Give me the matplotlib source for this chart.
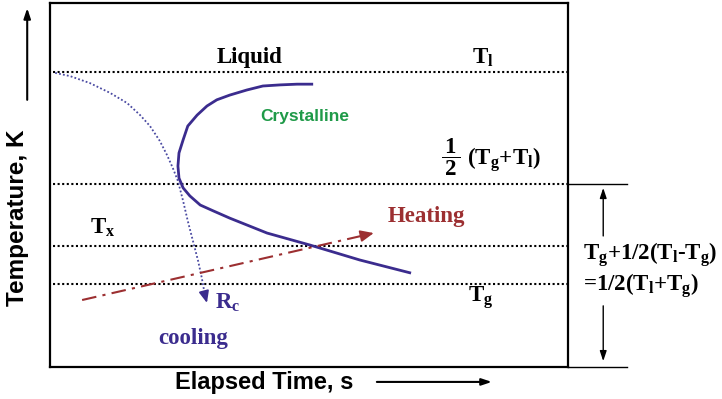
import matplotlib
matplotlib.use("Agg")
import matplotlib.pyplot as plt
import numpy as np

# schematic TTT-style diagram, arbitrary units (time 0-100, temperature 0-100)

plt.rcParams["mathtext.fontset"] = "custom"
plt.rcParams["mathtext.rm"] = "Liberation Serif:bold"
plt.rcParams["mathtext.it"] = "Liberation Serif:bold"
plt.rcParams["mathtext.bf"] = "Liberation Serif:bold"

# characteristic temperature levels

T_LIQUID = 81.0
T_HALF = 50.3
T_X = 33.2
T_GLASS = 22.8
level_values = [T_LIQUID, T_HALF, T_X, T_GLASS]

# crystallisation nose (C-curve)

crystal_time = [50.8, 47.7, 44.4, 41.1, 38.0, 34.7, 32.2, 30.3, 28.4, 26.6,
                25.7, 24.9, 24.7, 24.9, 25.7, 27.0, 29.0, 31.5, 34.7, 41.9,
                50.2, 59.8, 69.7]
crystal_temp = [77.7, 77.7, 77.5, 77.2, 76.1, 74.7, 73.4, 71.7, 69.2, 66.2,
                62.4, 58.8, 55.2, 51.9, 49.2, 47.0, 44.5, 42.9, 40.9, 36.8,
                33.5, 29.4, 25.8]

# critical cooling path

cooling_time = [1.0, 3.9, 7.7, 11.6, 14.9, 17.4, 19.3, 21.2, 22.6, 23.7, 24.7,
                25.7, 26.6, 27.6, 28.6, 29.3, 29.9]
cooling_temp = [80.8, 79.9, 78.0, 75.3, 72.5, 69.2, 66.2, 62.1, 58.2, 54.7, 51.1,
                45.6, 40.1, 34.6, 29.1, 24.5, 19.8]
cooling_tip = (30.3, 17.6)

# heating path

heating_start = (6.2, 18.4)
heating_end = (62.5, 36.8)

PURPLE = "#3b2c8e"
DOT_PURPLE = "#4a4aa2"
BROWN = "#9c2f31"
GREEN = "#1f9a48"
SERIF = "Liberation Serif"
SANS = "Liberation Sans"

fig = plt.figure(figsize=(7.22, 3.99), dpi=100)
ax = fig.add_axes([50 / 722, 32 / 399, 518 / 722, 364 / 399])
ax.set_xlim(0, 100)
ax.set_ylim(0, 100)
ax.set_xticks([])
ax.set_yticks([])
for sp in ax.spines.values():
    sp.set_linewidth(1.6)

for lv in level_values:
    ax.plot([0.6, 100], [lv, lv], color="black", lw=1.5, ls=(0, (1, 1.2)))

ax.plot(crystal_time, crystal_temp, color=PURPLE, lw=2.0, solid_capstyle="butt",
        solid_joinstyle="round")

ax.plot(cooling_time, cooling_temp, color=DOT_PURPLE, lw=1.3, ls=(0, (1, 1.2)))
ax.annotate("", xy=cooling_tip, xytext=(cooling_time[-1], cooling_temp[-1]),
            arrowprops=dict(arrowstyle="-|>,head_length=0.7,head_width=0.3",
                            color=PURPLE, lw=1.3, shrinkA=0, shrinkB=0))

ax.plot([heating_start[0], heating_end[0] - 1.5],
        [heating_start[1], heating_end[1] - 0.5],
        color=BROWN, lw=1.5, ls=(0, (7, 3, 1.5, 3)))
ax.annotate("", xy=heating_end, xytext=(heating_end[0] - 2.0, heating_end[1] - 0.65),
            arrowprops=dict(arrowstyle="-|>,head_length=0.8,head_width=0.35",
                            color=BROWN, lw=1.3, shrinkA=0, shrinkB=0))

# labels inside the box

ax.text(38.6, 85.0, "Liquid", family=SERIF, weight="bold", fontsize=16.5,
        ha="center", va="center")
ax.text(83.6, 85.0, r"$T_l$", fontsize=16.5, ha="center", va="center")
ax.text(49.2, 68.7, "Crystalline", family=SANS, weight="bold", fontsize=12.5,
        color=GREEN, ha="center", va="center")
ax.text(75.5, 57.5, r"$\dfrac{\,1\,}{\,2\,}$ (T$_g$+T$_l$)", family=SERIF,
        weight="bold", fontsize=16.5, ha="left", va="center")
ax.text(10.2, 38.2, r"$T_x$", fontsize=16.5, ha="center", va="center")
ax.text(83.2, 19.0, r"$T_g$", fontsize=16.5, ha="center", va="center")
ax.text(34.2, 17.8, r"$R_c$", fontsize=16.5, color=PURPLE, ha="center", va="center")
ax.text(27.6, 7.8, "cooling", family=SERIF, weight="bold", fontsize=16.5,
        color=PURPLE, ha="center", va="center")
ax.text(72.6, 41.3, "Heating", family=SERIF, weight="bold", fontsize=16.5,
        color=BROWN, ha="center", va="center")

# bracket on the right

for lv in [T_HALF, 0]:
    ax.plot([100, 111.4], [lv, lv], color="black", lw=1.0, clip_on=False)
ax.annotate("", xy=(106.8, 49.2), xytext=(106.8, 36.0), annotation_clip=False,
            arrowprops=dict(arrowstyle="-|>,head_length=0.6,head_width=0.2",
                            color="black", lw=1.0, shrinkA=0, shrinkB=0))
ax.annotate("", xy=(106.8, 1.6), xytext=(106.8, 16.8), annotation_clip=False,
            arrowprops=dict(arrowstyle="-|>,head_length=0.6,head_width=0.2",
                            color="black", lw=1.0, shrinkA=0, shrinkB=0))
ax.text(102.9, 30.8, r"T$_g$+1/2(T$_l$-T$_g$)", family=SERIF, weight="bold",
        fontsize=16.5, ha="left", va="center", clip_on=False)
ax.text(102.9, 22.5, r"=1/2(T$_l$+T$_g$)", family=SERIF, weight="bold",
        fontsize=16.5, ha="left", va="center", clip_on=False)

# axis titles with arrows

ax.text(-6.2, 40.9, "Temperature, K", family=SANS, weight="bold", fontsize=17.5,
        rotation=90, ha="center", va="center", clip_on=False)
ax.annotate("", xy=(-4.4, 98.6), xytext=(-4.4, 73.4), annotation_clip=False,
            arrowprops=dict(arrowstyle="-|>,head_length=0.6,head_width=0.2",
                            color="black", lw=1.5, shrinkA=0, shrinkB=0))
ax.text(41.3, -4.2, "Elapsed Time, s", family=SANS, weight="bold", fontsize=17,
        ha="center", va="center", clip_on=False)
ax.annotate("", xy=(85.3, -4.1), xytext=(63.1, -4.1), annotation_clip=False,
            arrowprops=dict(arrowstyle="-|>,head_length=0.6,head_width=0.2",
                            color="black", lw=1.5, shrinkA=0, shrinkB=0))

fig.savefig("out.png", dpi=100)
